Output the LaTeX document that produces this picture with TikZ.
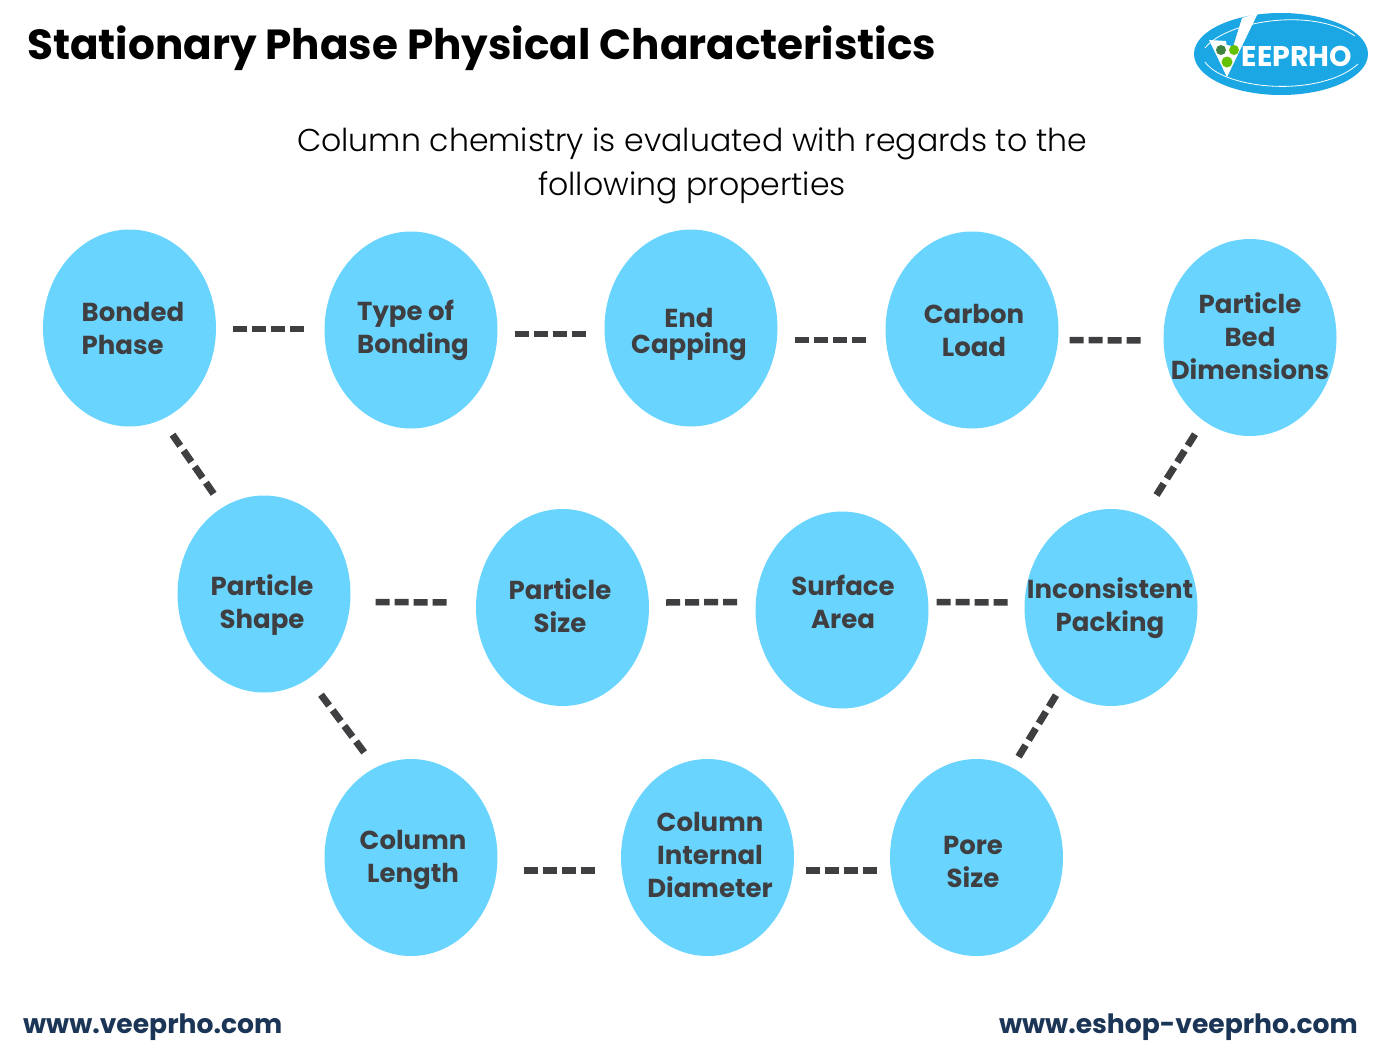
\documentclass[tikz,border=0pt]{standalone}
\usepackage{fontspec}
\usetikzlibrary{calc,shapes.geometric}
\setmainfont{Poppins}
\newfontfamily\lightfont{Poppins Light}
\definecolor{bubble}{HTML}{69D5FF}
\definecolor{ink}{HTML}{3F3F42}
\definecolor{linkc}{HTML}{1B3557}
\definecolor{logoblue}{HTML}{1AA7E4}
\tikzset{
  x=1pt,y=-1pt,
  bub/.style={ellipse,fill=bubble,minimum width=173pt,minimum height=197pt,inner sep=0pt},
  lab/.style={font=\fontsize{26}{33}\selectfont\bfseries,text=ink,align=center,inner sep=0pt},
  conn/.style={draw=ink,line width=6.5pt,dash pattern=on 14pt off 5pt},
  diag/.style={draw=ink,line width=7pt,dash pattern=on 13.5pt off 6pt},
}
\begin{document}
\begin{tikzpicture}
\useasboundingbox[fill=white] (0,0) rectangle (1385,1052);
\node[anchor=west,inner sep=0pt] (title) at (27,48.5) {\resizebox{909pt}{!}{\fontsize{40}{46}\selectfont\bfseries Stationary Phase Physical Characteristics}};
\node[align=center,inner sep=0pt,font=\lightfont\fontsize{31.55}{44}\selectfont,text=black] (sub) at (692,165.5) {Column chemistry is evaluated with regards to the\\following properties};
% bubbles
\node[bub] (a1) at (129.5,328) {};
\node[bub] (a2) at (411,330) {};
\node[bub] (a3) at (691,328) {};
\node[bub] (a4) at (972,330) {};
\node[bub] (a5) at (1250,337.5) {};
\node[bub] (b1) at (264,594) {};
\node[bub] (b2) at (562.5,607.5) {};
\node[bub] (b3) at (842,610) {};
\node[bub] (b4) at (1111,607.5) {};
\node[bub] (c1) at (411,857.5) {};
\node[bub] (c2) at (707.5,857.5) {};
\node[bub] (c3) at (976.5,857.5) {};
% labels
\node[lab,align=left] (t1) at (133,328) {Bonded\\Phase};
\node[lab,align=left] (t2) at (413,330) {Type of\\Bonding};
\node[lab] (t3) at (689,334) {End\\[-7pt]Capping};
\node[lab] (t4) at (974,330) {Carbon\\Load};
\node[lab] (t5) at (1250,336.5) {Particle\\Bed\\Dimensions};
\node[lab] (t6) at (262,605) {Particle\\Shape};
\node[lab] (t7) at (560,606) {Particle\\Size};
\node[lab] (t8) at (843,602) {Surface\\Area};
\node[lab] (t9) at (1110,608) {Inconsistent\\Packing};
\node[lab] (t10) at (413,860) {Column\\Length};
\node[lab] (t11) at (710,855) {Column\\Internal\\Diameter};
\node[lab] (t12) at (973,862) {Pore\\Size};
% connectors
\draw[conn] ($(a1.east)+(17,1)$) -- ($(a2.west)+(-19,-1)$);
\draw[conn] ($(a2.east)+(17,4)$) -- ($(a3.west)+(-17,6)$);
\draw[conn] ($(a3.east)+(17,12)$) -- ($(a4.west)+(-19,10)$);
\draw[conn] ($(a4.east)+(11,10)$) -- ($(a5.west)+(-22,3)$);
\draw[diag] ($(a1.south)+(43,8)$) -- ($(b1.north)+(-50,-1)$);
\draw[diag] ($(b1.south)+(57,2)$) -- ($(c1.north)+(-45,-4)$);
\draw[diag] ($(a5.south)+(-55,-2)$) -- ($(b4.north)+(45,-13)$);
\draw[diag] ($(b4.south)+(-55,-11)$) -- ($(c3.north)+(42,-2)$);
\draw[conn] ($(b1.east)+(25,8)$) -- ($(b2.west)+(-28,-5)$);
\draw[conn] ($(b2.east)+(17,-5)$) -- ($(b3.west)+(-17,-8)$);
\draw[conn] ($(b3.east)+(8,-8)$) -- ($(b4.west)+(-16,-5)$);
\draw[conn] ($(c1.east)+(26,13)$) -- ($(c2.west)+(-26,13)$);
\draw[conn] ($(c2.east)+(12,13)$) -- ($(c3.west)+(-11,13)$);
% logo
\node[ellipse,fill=logoblue,minimum width=174pt,minimum height=82pt,inner sep=0pt] (logo) at (1281,54) {};
\draw[white,line width=0.8pt] (1205,48) .. controls (1225,22) and (1310,6) .. (1355,36);
\draw[white,line width=0.8pt] (1205,62) .. controls (1225,90) and (1320,98) .. (1358,64);
\fill[white] (1209,40) -- (1226,41) -- (1229,60) -- (1242,18) -- (1258,13) -- (1227,77) -- cycle;
\fill[white] (1227,54) circle (9pt);
\fill[green!35!black!75] (1221,50) circle (5pt);
\fill[green!60!black!60!yellow] (1234,50) circle (5pt);
\fill[green!60!black!60!yellow] (1227,62) circle (5.5pt);
\node[inner sep=0pt,text=white,font=\fontsize{28.5}{29}\selectfont\bfseries] (logot) at (1297,56) {EEPRHO};
% footers
\node[anchor=west,inner sep=0pt,text=linkc,font=\fontsize{26.6}{30}\selectfont\bfseries] (w1) at (23,1027) {www.veeprho.com};
\node[anchor=east,inner sep=0pt,text=linkc,font=\fontsize{26.6}{30}\selectfont\bfseries] (w2) at (1358,1027) {www.eshop-veeprho.com};
\end{tikzpicture}
\end{document}
